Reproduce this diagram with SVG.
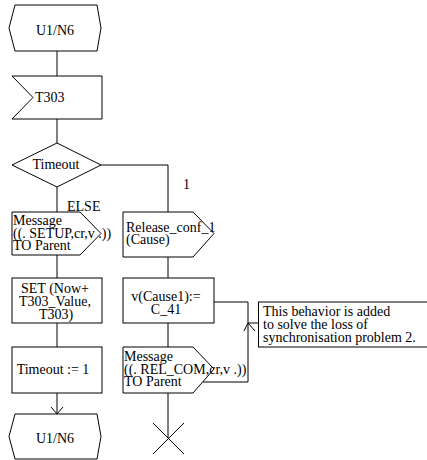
<svg xmlns="http://www.w3.org/2000/svg" width="427" height="460" viewBox="0 0 427 460">
<style>
.s{fill:#fff;stroke:#000;stroke-width:1}
.l{fill:none;stroke:#000;stroke-width:1}
text{font-family:"Liberation Serif","Times New Roman",serif;font-size:14px;fill:#000}
.c{text-anchor:middle}
</style>
<rect x="0" y="0" width="427" height="460" fill="#fff"/>
<g id="connectors">
<path class="l" d="M57 51V76"/>
<path class="l" d="M57 119V143"/>
<path class="l" d="M57 187V212"/>
<path class="l" d="M101 165H168V212"/>
<path class="l" d="M57 255V278"/>
<path class="l" d="M168 257V278"/>
<path class="l" d="M57 323V347"/>
<path class="l" d="M168 323V347"/>
<path class="l" d="M57 393V414"/>
<path class="l" d="M51 407L57 414L63 407"/>
<path class="l" d="M168 393V438"/>
<path class="l" d="M214 302H248V382H203"/>
<path class="l" d="M244 331L248 323L255 331"/>
<path class="l" d="M248 323H259"/>
<text x="183" y="189">1</text>
<text x="67" y="211">ELSE</text>
</g>
<g id="start">
<polygon class="s" points="15,5 97,5 101,28 97,51 15,51 9,28"/>
<text class="c" x="55" y="35">U1/N6</text>
</g>
<g id="t303">
<polygon class="s" points="12,76 102,76 102,119 12,119 33,97.5"/>
<text x="35" y="102">T303</text>
</g>
<g id="timeout">
<polygon class="s" points="12,165 57,143 101,165 57,187"/>
<text class="c" x="56" y="169">Timeout</text>
</g>
<g id="msg_setup">
<polygon class="s" points="12,212 80,212 101,233.5 80,255 12,255"/>
<text x="13" y="225">Message</text>
<text x="13" y="237.5">((. SETUP,cr,v .))</text>
<text x="13" y="250">TO Parent</text>
</g>
<g id="release">
<polygon class="s" points="123,212 193,212 214,233.5 193,257 123,257"/>
<text x="126" y="232">Release_conf_1</text>
<text x="126" y="244">(Cause)</text>
</g>
<g id="set">
<rect class="s" x="12" y="278" width="90" height="45"/>
<text class="c" x="55" y="293">SET (Now+</text>
<text class="c" x="55" y="306">T303_Value,</text>
<text class="c" x="56" y="319">T303)</text>
</g>
<g id="assign">
<rect class="s" x="123" y="278" width="91" height="45"/>
<text class="c" x="166" y="301">v(Cause1):=</text>
<text class="c" x="166" y="314">C_41</text>
</g>
<g id="comment">
<rect class="s" x="258.5" y="302" width="172" height="45"/>
<text x="263" y="316">This behavior is added</text>
<text x="263" y="329">to solve the loss of</text>
<text x="263" y="342">synchronisation problem 2.</text>
</g>
<g id="timeout_set">
<rect class="s" x="12" y="347" width="90" height="46"/>
<text class="c" x="53" y="374">Timeout := 1</text>
</g>
<g id="msg_relcom">
<polygon class="s" points="123,347 193,347 214,369 193,393 123,393"/>
<text x="124" y="361">Message</text>
<text x="124" y="373.5">((. REL_COM,cr,v .))</text>
<text x="124" y="386">TO Parent</text>
</g>
<g id="end">
<polygon class="s" points="15,414 97,414 101,436.5 97,459 15,459 9,436.5"/>
<text class="c" x="55" y="443">U1/N6</text>
</g>
<g id="stop">
<path class="l" d="M153 423L184 454M184 423L153 454"/>
</g>
</svg>
